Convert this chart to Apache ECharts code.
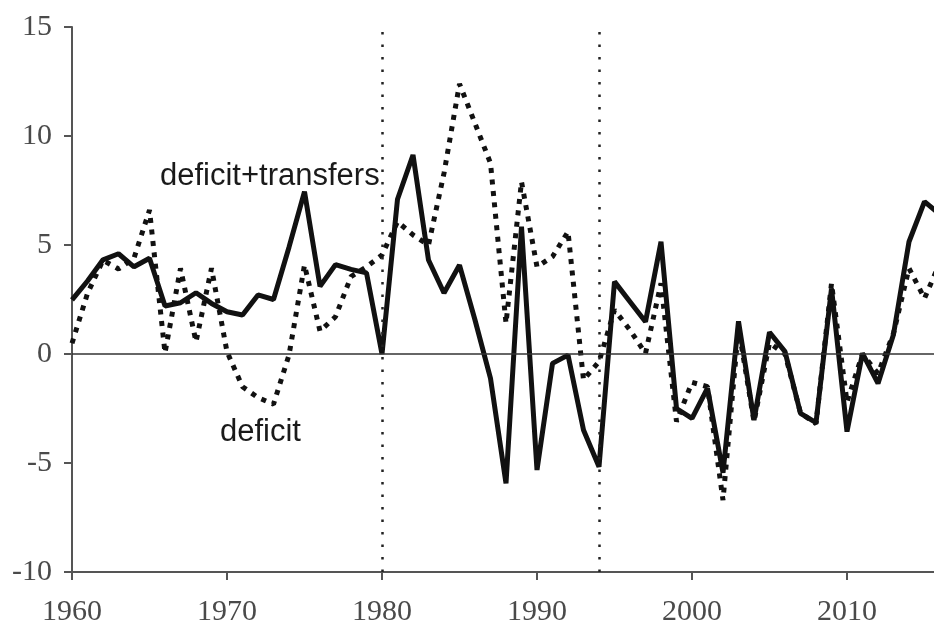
<!DOCTYPE html>
<html>
<head>
<meta charset="utf-8">
<title>deficit vs deficit+transfers</title>
<script src="https://cdn.jsdelivr.net/npm/echarts@6/dist/echarts.min.js"></script>
<style>
  html, body { margin: 0; padding: 0; background: #fff; }
  #main { width: 934px; height: 623px; }
</style>
</head>
<body>
<div id="main"></div>
<script>
// years 1960 - 2016
var years = [];
for (var y = 1960; y <= 2016; y++) years.push(y);

// deficit + transfers (solid)
var deficitTransfers = [
  2.48, 3.35, 4.32, 4.6, 4.0, 4.39, 2.2, 2.35, 2.81, 2.32,
  1.94, 1.79, 2.71, 2.5, 4.9, 7.45, 3.1, 4.1, 3.88, 3.72,
  0.0, 7.1, 9.13, 4.31, 2.8, 4.08, 1.56, -1.12, -5.93, 5.84,
  -5.32, -0.43, -0.05, -3.49, -5.17, 3.32, 2.4, 1.48, 5.15, -2.5,
  -2.95, -1.57, -5.45, 1.5, -3.03, 1.0, 0.11, -2.72, -3.15, 3.0,
  -3.56, 0.03, -1.35, 0.9, 5.15, 6.99, 6.4
];

// deficit (dotted)
var deficit = [
  0.49, 2.78, 4.3, 3.9, 4.4, 6.6, 0.05, 3.93, 0.56, 3.93,
  0.1, -1.5, -2.0, -2.3, -0.05, 4.08, 1.05, 1.71, 3.55, 4.0,
  4.54, 6.07, 5.46, 5.0, 8.29, 12.39, 10.58, 8.75, 1.41, 7.9,
  4.0, 4.47, 5.61, -1.19, -0.35, 2.02, 1.1, 0.03, 3.24, -3.1,
  -1.3, -1.5, -6.7, 1.2, -3.1, 0.5, 0.0, -2.7, -3.2, 3.24,
  -2.2, 0.0, -0.9, 0.95, 3.93, 2.55, 4.2
];

// vertical break years
var breakYears = [1980, 1994];

var yTicks = { min: -10, max: 15, interval: 5 };
var xTicks = { min: 1960, max: 2016, interval: 10 };

function pairs(vals) {
  return years.map(function (yr, i) { return [yr, vals[i]]; });
}

var labelFont = {
  fontFamily: "Liberation Serif",
  fontSize: 30,
  color: "#4a4a4a"
};

var chart = echarts.init(document.getElementById("main"));
var option = {
  animation: false,
  backgroundColor: "#fff",
  grid: {
    left: 72,
    right: -6, // last year runs just past the picture edge
    top: 27,
    bottom: 51,
    outerBoundsMode: "none"
  },
  xAxis: {
    type: "value",
    min: xTicks.min,
    max: xTicks.max,
    interval: xTicks.interval,
    splitLine: { show: false },
    axisLine: { onZero: false, lineStyle: { color: "#555", width: 2 } },
    axisTick: { inside: false, length: 8, lineStyle: { color: "#555", width: 2 } },
    axisLabel: Object.assign({
      margin: 25,
      showMaxLabel: false,
      formatter: function (v) { return v % 10 === 0 ? String(v) : ""; }
    }, labelFont)
  },
  yAxis: {
    type: "value",
    min: yTicks.min,
    max: yTicks.max,
    interval: yTicks.interval,
    splitLine: { show: false },
    axisLine: { show: true, onZero: false, lineStyle: { color: "#555", width: 2 } },
    axisTick: { show: true, inside: false, length: 8, lineStyle: { color: "#555", width: 2 } },
    axisLabel: Object.assign({ margin: 20 }, labelFont)
  },
  graphic: [
    {
      type: "text",
      left: 160,
      top: 161,
      style: {
        text: "deficit+transfers",
        font: "31px 'Liberation Sans'",
        fill: "#1a1a1a"
      }
    },
    {
      type: "text",
      left: 220,
      top: 417,
      style: {
        text: "deficit",
        font: "31px 'Liberation Sans'",
        fill: "#1a1a1a"
      }
    }
  ],
  series: [
    {
      name: "deficit",
      type: "line",
      data: pairs(deficit),
      showSymbol: false,
      lineStyle: { color: "#111", width: 5, type: [5, 6.5] },
      markLine: {
        silent: true,
        symbol: "none",
        label: { show: false },
        data: [
          { yAxis: 0, lineStyle: { color: "#333", width: 1.5, type: "solid" } }
        ].concat(breakYears.map(function (yr) {
          return { xAxis: yr, lineStyle: { color: "#222", width: 2.5, type: [2.5, 10] } };
        }))
      },
      z: 3
    },
    {
      name: "deficit+transfers",
      type: "line",
      data: pairs(deficitTransfers),
      showSymbol: false,
      lineStyle: { color: "#111", width: 5, type: "solid" },
      z: 4
    }
  ]
};
chart.setOption(option);
</script>
</body>
</html>
